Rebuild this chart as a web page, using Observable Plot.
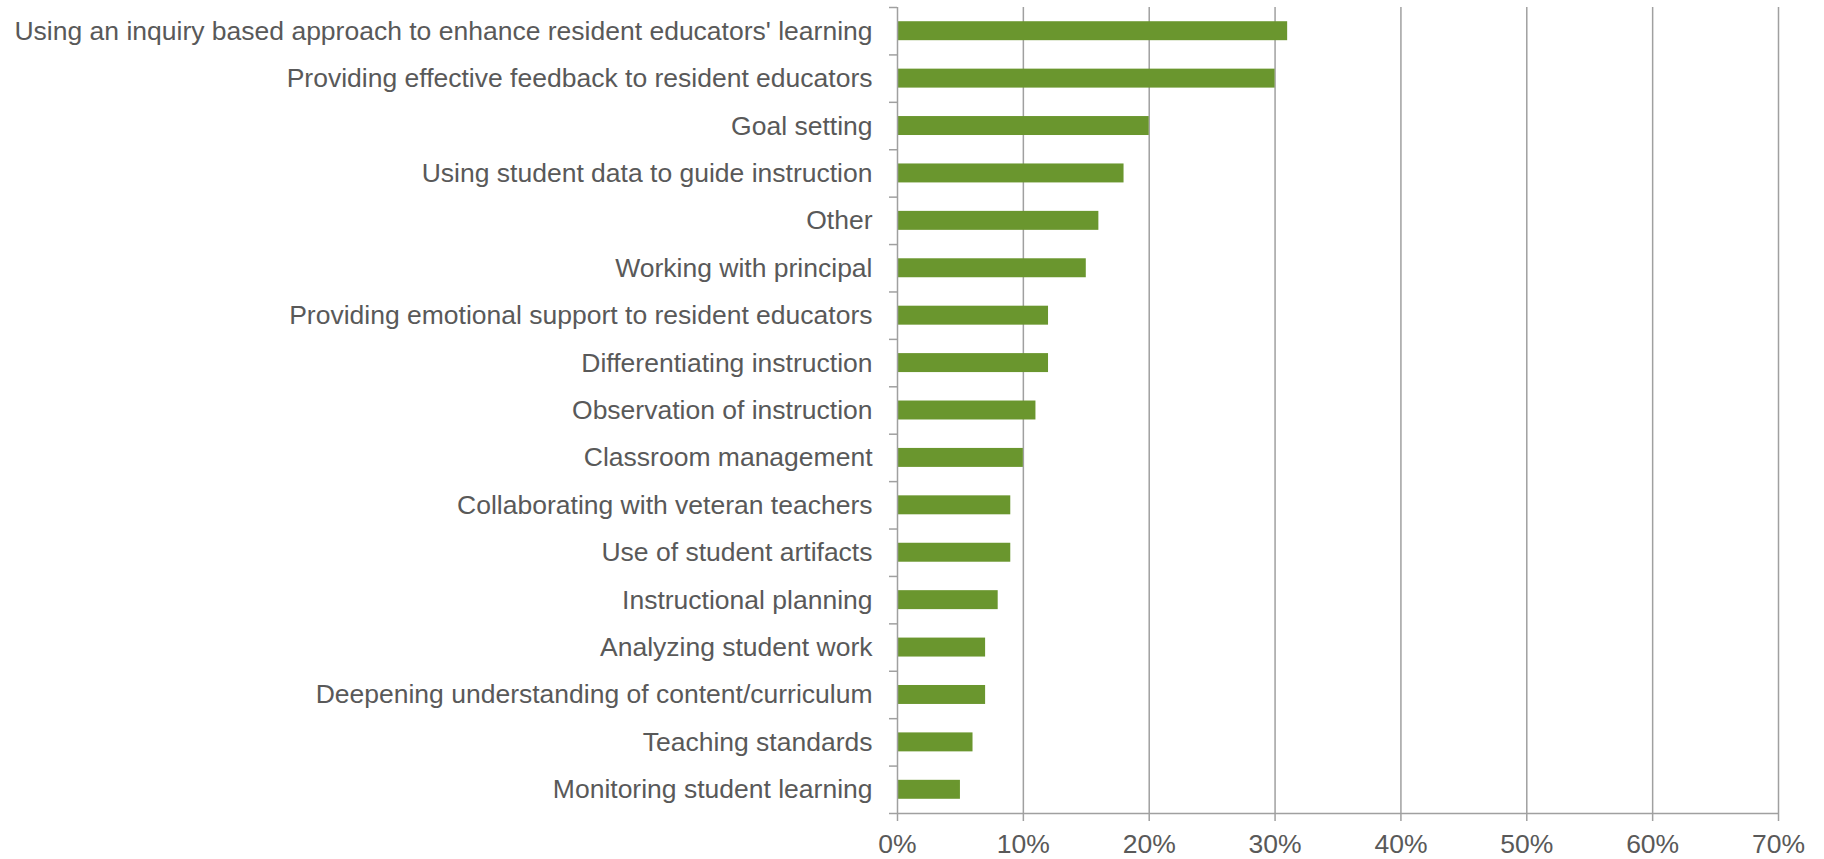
<!DOCTYPE html>
<html>
<head>
<meta charset="utf-8">
<script src="https://cdn.jsdelivr.net/npm/d3@7"></script>
<script src="https://cdn.jsdelivr.net/npm/@observablehq/plot@0.6"></script>
<style>
  html, body { margin: 0; padding: 0; background: #fff; }
  #chart svg { display: block; }
</style>
</head>
<body>
<div id="chart"></div>
<script>
const categories = [
  "Using an inquiry based approach to enhance resident educators' learning",
  "Providing effective feedback to resident educators",
  "Goal setting",
  "Using student data to guide instruction",
  "Other",
  "Working with principal",
  "Providing emotional support to resident educators",
  "Differentiating instruction",
  "Observation of instruction",
  "Classroom management",
  "Collaborating with veteran teachers",
  "Use of student artifacts",
  "Instructional planning",
  "Analyzing student work",
  "Deepening understanding of content/curriculum",
  "Teaching standards",
  "Monitoring student learning"
];
const values = [31, 30, 20, 18, 16, 15, 12, 12, 11, 10, 9, 9, 8, 7, 7, 6, 5];
const xTicks = [0, 10, 20, 30, 40, 50, 60, 70];

const data = categories.map((c, i) => ({category: c, value: values[i]}));

const W = 1824, H = 859;
const mTop = 7, mBottom = 46, mLeft = 897, mRight = 46;
const step = (H - mTop - mBottom) / categories.length;
const grid = "#a0a0a0";
const textColor = "#595959";
const fs = 26.5;

const plot = Plot.plot({
  width: W,
  height: H,
  marginTop: mTop,
  marginBottom: mBottom,
  marginLeft: mLeft,
  marginRight: mRight,
  style: {fontFamily: "'Liberation Sans', Arial, sans-serif", fontSize: fs + "px", color: textColor, background: "#fff"},
  x: {domain: [0, 70]},
  y: {domain: categories, paddingInner: 0.6, paddingOuter: 0.3, round: false},
  marks: [
    Plot.ruleX(xTicks.filter(d => d > 0), {x: d => d, stroke: grid, strokeWidth: 1.5}),
    Plot.barX(data, {x: "value", y: "category", fill: "#6a962e"}),
    Plot.ruleX([0], {stroke: grid, strokeWidth: 1.5}),
    Plot.ruleY([0], {y: () => categories[categories.length - 1], dy: step / 2, stroke: grid, strokeWidth: 1.5}),
    Plot.axisX({ticks: xTicks, tickFormat: d => d + "%", tickSize: 8, tickPadding: 13, stroke: grid, strokeWidth: 1.5, fill: textColor, fontSize: fs, label: null}),
    Plot.axisY({tickSize: 0, tickPadding: 25, fill: textColor, fontSize: fs, label: null}),
    Plot.axisY({tickSize: 8, text: null, dy: -step / 2, stroke: grid, strokeWidth: 1.5, label: null}),
    Plot.axisY({ticks: [categories[categories.length - 1]], tickSize: 8, text: null, dy: step / 2, stroke: grid, strokeWidth: 1.5, label: null})
  ]
});
document.getElementById("chart").appendChild(plot);
</script>
</body>
</html>
